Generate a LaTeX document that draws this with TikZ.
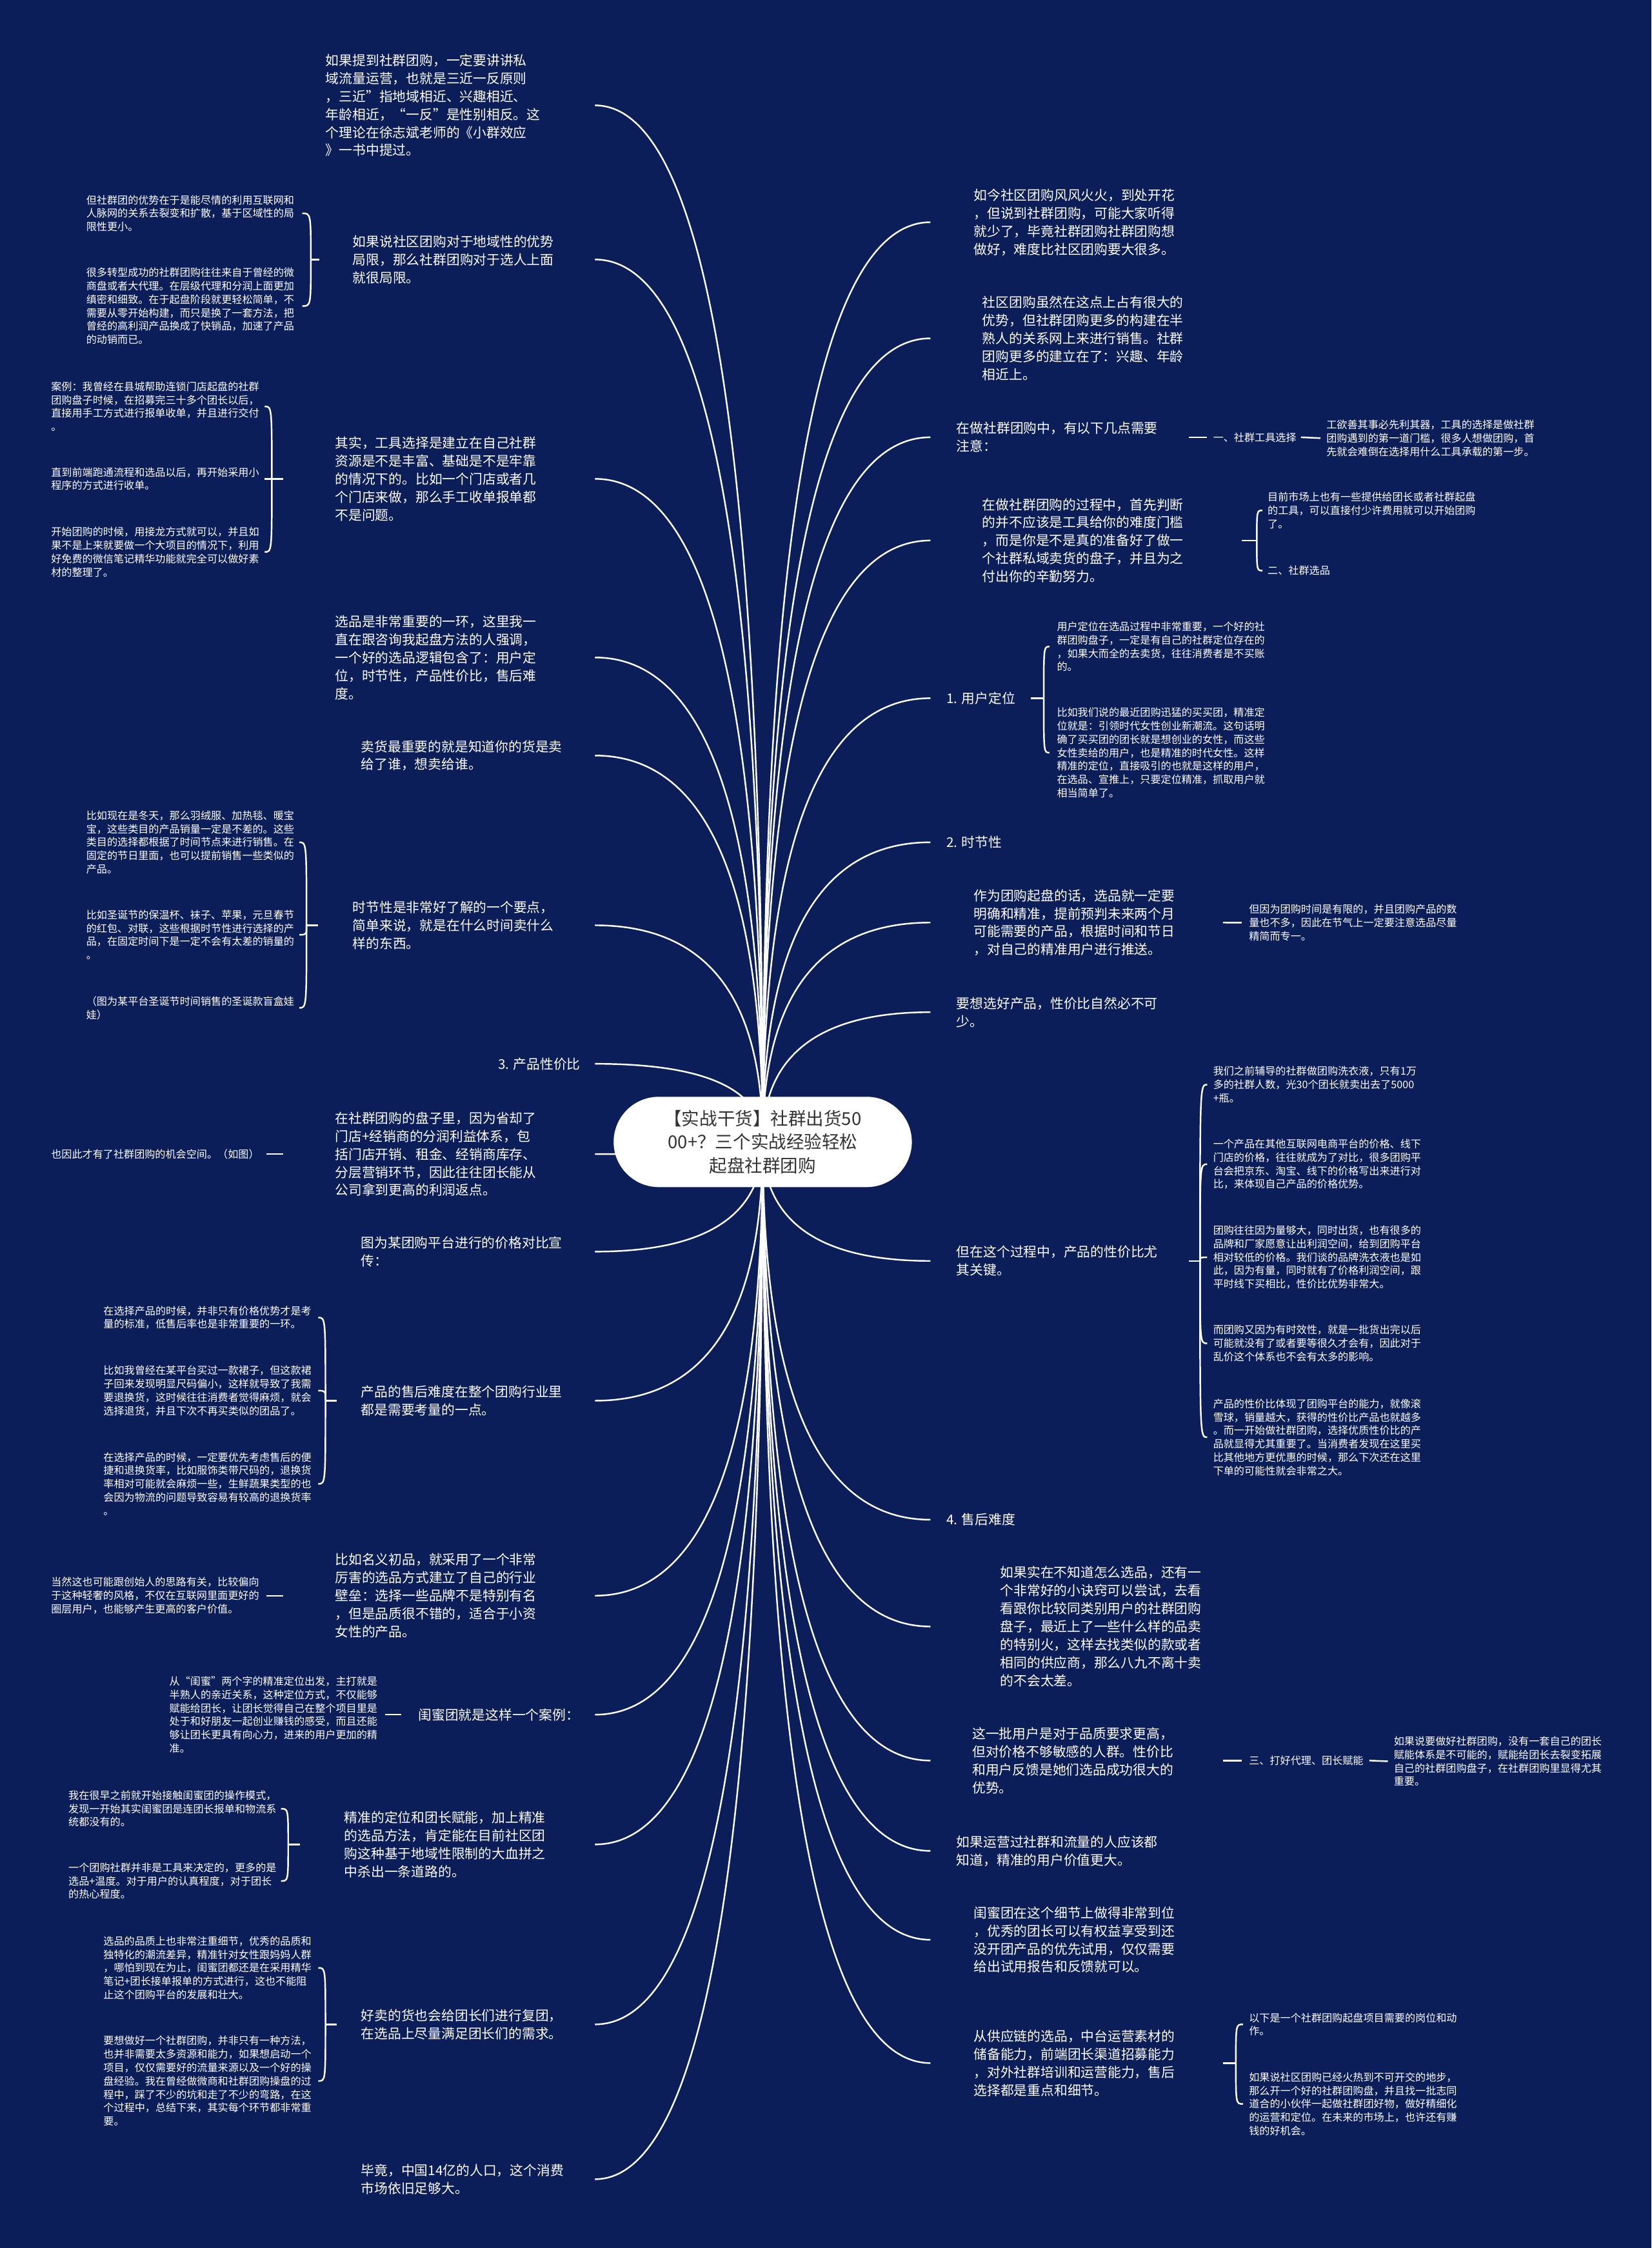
\documentclass[tikz,border=0pt]{standalone}
\usepackage{fontspec}
\setmainfont{Noto Sans CJK SC}
\newfontfamily\cjk{Noto Sans CJK SC}
\usetikzlibrary{calc}
\definecolor{bgnavy}{RGB}{12,30,90}
\definecolor{ctrtext}{RGB}{51,51,51}
\pgfdeclarelayer{bglayer}
\pgfdeclarelayer{linklayer}
\pgfsetlayers{bglayer,linklayer,main}
\newcommand\mainfs{\cjk\fontsize{9.35}{12.55}\selectfont}
\newcommand\smallfs{\cjk\fontsize{7.25}{9.35}\selectfont}
\newcommand\ctrfs{\cjk\fontsize{12.4}{16.5}\selectfont}
% main link from centre to node #1, ending at column #2
\newcommand\mlink[2]{\draw[link] (ctr.center) .. controls ($(ctr.center)!0.667!(ctr.center |- #1.west)$) and ($(#1.west -| #2)!0.667!(ctr.center |- #1.west)$) .. (#1.west -| #2);}
% bracket hook from brace point #1 to child #2 with horizontal offset #3
\newcommand\hk[3]{\draw[link] (#1) .. controls (#1 |- #2.west) .. ($(#1 |- #2.west)+(#3,0)$);}
\begin{document}
\begin{tikzpicture}[x=1pt,y=-1pt,
  txt/.style={anchor=west,inner sep=0pt,align=left,text=white,font=\mainfs},
  stxt/.style={anchor=west,inner sep=0pt,align=left,text=white,font=\smallfs},
  link/.style={draw=white,line width=1.1pt}]
\useasboundingbox (0,0) rectangle (1152,1568);
\begin{pgfonlayer}{bglayer}
\fill[bgnavy] (0,0) rectangle (1152,1568);
\end{pgfonlayer}

\node[fill=white,rounded corners=31.5pt,minimum width=208pt,minimum height=63pt,inner sep=0pt,align=center,text=ctrtext,font=\ctrfs] (ctr) at (532,796.5) {【实战干货】社群出货50\\00+？三个实战经验轻松\\起盘社群团购};

\coordinate (LX) at (415,796);
\coordinate (RX) at (649,796);

% ---------------- left side ----------------
\node[txt] (L1) at (227,73.5) {如果提到社群团购，一定要讲讲私\\域流量运营，也就是三近一反原则\\，三近”指地域相近、兴趣相近、\\年龄相近，“一反”是性别相反。这\\个理论在徐志斌老师的《小群效应\\》一书中提过。};
\node[txt] (L2) at (245.8,181) {如果说社区团购对于地域性的优势\\局限，那么社群团购对于选人上面\\就很局限。};
\node[stxt] (C2a) at (60,148.8) {但社群团的优势在于是能尽情的利用互联网和\\人脉网的关系去裂变和扩散，基于区域性的局\\限性更小。};
\node[stxt] (C2b) at (60,213.5) {很多转型成功的社群团购往往来自于曾经的微\\商盘或者大代理。在层级代理和分润上面更加\\缜密和细致。在于起盘阶段就更轻松简单，不\\需要从零开始构建，而只是换了一套方法，把\\曾经的高利润产品换成了快销品，加速了产品\\的动销而已。};
\node[txt] (L3) at (233.6,334) {其实，工具选择是建立在自己社群\\资源是不是丰富、基础是不是牢靠\\的情况下的。比如一个门店或者几\\个门店来做，那么手工收单报单都\\不是问题。};
\node[stxt] (C3a) at (35.5,283.5) {案例：我曾经在县城帮助连锁门店起盘的社群\\团购盘子时候，在招募完三十多个团长以后，\\直接用手工方式进行报单收单，并且进行交付\\。};
\node[stxt] (C3b) at (35.5,334) {直到前端跑通流程和选品以后，再开始采用小\\程序的方式进行收单。};
\node[stxt] (C3c) at (35.5,385) {开始团购的时候，用接龙方式就可以，并且如\\果不是上来就要做一个大项目的情况下，利用\\好免费的微信笔记精华功能就完全可以做好素\\材的整理了。};
\node[txt] (L4) at (233.6,458.6) {选品是非常重要的一环，这里我一\\直在跟咨询我起盘方法的人强调，\\一个好的选品逻辑包含了：用户定\\位，时节性，产品性价比，售后难\\度。};
\node[txt] (L5) at (251.7,527) {卖货最重要的就是知道你的货是卖\\给了谁，想卖给谁。};
\node[txt] (L6) at (245.8,645.4) {时节性是非常好了解的一个要点，\\简单来说，就是在什么时间卖什么\\样的东西。};
\node[stxt] (C6a) at (60,587.5) {比如现在是冬天，那么羽绒服、加热毯、暖宝\\宝，这些类目的产品销量一定是不差的。这些\\类目的选择都根据了时间节点来进行销售。在\\固定的节日里面，也可以提前销售一些类似的\\产品。};
\node[stxt] (C6b) at (60,652) {比如圣诞节的保温杯、袜子、苹果，元旦春节\\的红包、对联，这些根据时节性进行选择的产\\品，在固定时间下是一定不会有太差的销量的\\。};
\node[stxt] (C6c) at (60,703) {（图为某平台圣诞节时间销售的圣诞款盲盒娃\\娃）};
\node[txt] (L7) at (347.3,742) {3. 产品性价比};
\node[txt] (L8) at (233.6,805) {在社群团购的盘子里，因为省却了\\门店+经销商的分润利益体系，包\\括门店开销、租金、经销商库存、\\分层营销环节，因此往往团长能从\\公司拿到更高的利润返点。};
\node[stxt] (C8) at (35.5,805) {也因此才有了社群团购的机会空间。（如图）};
\node[txt] (L9) at (251.7,873) {图为某团购平台进行的价格对比宣\\传：};
\node[txt] (L10) at (251.7,977) {产品的售后难度在整个团购行业里\\都是需要考量的一点。};
\node[stxt] (C10a) at (72,919) {在选择产品的时候，并非只有价格优势才是考\\量的标准，低售后率也是非常重要的一环。};
\node[stxt] (C10b) at (72,970) {比如我曾经在某平台买过一款裙子，但这款裙\\子回来发现明显尺码偏小，这样就导致了我需\\要退换货，这时候往往消费者觉得麻烦，就会\\选择退货，并且下次不再买类似的团品了。};
\node[stxt] (C10c) at (72,1035) {在选择产品的时候，一定要优先考虑售后的便\\捷和退换货率，比如服饰类带尺码的，退换货\\率相对可能就会麻烦一些，生鲜蔬果类型的也\\会因为物流的问题导致容易有较高的退换货率\\。};
\node[txt] (L11) at (233.6,1113) {比如名义初品，就采用了一个非常\\厉害的选品方式建立了自己的行业\\壁垒：选择一些品牌不是特别有名\\，但是品质很不错的，适合于小资\\女性的产品。};
\node[stxt] (C11) at (35.5,1113) {当然这也可能跟创始人的思路有关，比较偏向\\于这种轻奢的风格，不仅在互联网里面更好的\\圈层用户，也能够产生更高的客户价值。};
\node[txt] (L12) at (291.6,1196) {闺蜜团就是这样一个案例：};
\node[stxt] (C12) at (118,1196) {从“闺蜜”两个字的精准定位出发，主打就是\\半熟人的亲近关系，这种定位方式，不仅能够\\赋能给团长，让团长觉得自己在整个项目里是\\处于和好朋友一起创业赚钱的感受，而且还能\\够让团长更具有向心力，进来的用户更加的精\\准。};
\node[txt] (L13) at (240,1286.5) {精准的定位和团长赋能，加上精准\\的选品方法，肯定能在目前社区团\\购这种基于地域性限制的大血拼之\\中杀出一条道路的。};
\node[stxt] (C13a) at (47.6,1261.6) {我在很早之前就开始接触闺蜜团的操作模式，\\发现一开始其实闺蜜团是连团长报单和物流系\\统都没有的。};
\node[stxt] (C13b) at (47.6,1312) {一个团购社群并非是工具来决定的，更多的是\\选品+温度。对于用户的认真程度，对于团长\\的热心程度。};
\node[txt] (L14) at (251.7,1412) {好卖的货也会给团长们进行复团，\\在选品上尽量满足团长们的需求。};
\node[stxt] (C14a) at (72,1372.6) {选品的品质上也非常注重细节，优秀的品质和\\独特化的潮流差异，精准针对女性跟妈妈人群\\，哪怕到现在为止，闺蜜团都还是在采用精华\\笔记+团长接单报单的方式进行，这也不能阻\\止这个团购平台的发展和壮大。};
\node[stxt] (C14b) at (72,1451.5) {要想做好一个社群团购，并非只有一种方法，\\也并非需要太多资源和能力，如果想启动一个\\项目，仅仅需要好的流量来源以及一个好的操\\盘经验。我在曾经做微商和社群团购操盘的过\\程中，踩了不少的坑和走了不少的弯路，在这\\个过程中，总结下来，其实每个环节都非常重\\要。};
\node[txt] (L15) at (251.7,1520) {毕竟，中国14亿的人口，这个消费\\市场依旧足够大。};

% ---------------- right side ----------------
\node[txt] (R1) at (679,155) {如今社区团购风风火火，到处开花\\，但说到社群团购，可能大家听得\\就少了，毕竟社群团购社群团购想\\做好，难度比社区团购要大很多。};
\node[txt] (R2) at (685,236) {社区团购虽然在这点上占有很大的\\优势，但社群团购更多的构建在半\\熟人的关系网上来进行销售。社群\\团购更多的建立在了：兴趣、年龄\\相近上。};
\node[txt] (R3) at (667,305) {在做社群团购中，有以下几点需要\\注意：};
\node[stxt] (R3a) at (846,305) {一、社群工具选择};
\node[stxt] (R3aa) at (925,305.6) {工欲善其事必先利其器，工具的选择是做社群\\团购遇到的第一道门槛，很多人想做团购，首\\先就会难倒在选择用什么工具承载的第一步。};
\node[txt] (R4) at (685,377) {在做社群团购的过程中，首先判断\\的并不应该是工具给你的难度门槛\\，而是你是不是真的准备好了做一\\个社群私域卖货的盘子，并且为之\\付出你的辛勤努力。};
\node[stxt] (R4a) at (884,356) {目前市场上也有一些提供给团长或者社群起盘\\的工具，可以直接付少许费用就可以开始团购\\了。};
\node[stxt] (R4b) at (884,398) {二、社群选品};
\node[txt] (R5) at (660,487) {1. 用户定位};
\node[stxt] (R5a) at (737,451) {用户定位在选品过程中非常重要，一个好的社\\群团购盘子，一定是有自己的社群定位存在的\\，如果大而全的去卖货，往往消费者是不买账\\的。};
\node[stxt] (R5b) at (737,525) {比如我们说的最近团购迅猛的买买团，精准定\\位就是：引领时代女性创业新潮流。这句话明\\确了买买团的团长就是想创业的女性，而这些\\女性卖给的用户，也是精准的时代女性。这样\\精准的定位，直接吸引的也就是这样的用户，\\在选品、宣推上，只要定位精准，抓取用户就\\相当简单了。};
\node[txt] (R6) at (660,587.5) {2. 时节性};
\node[txt] (R7) at (679,643.5) {作为团购起盘的话，选品就一定要\\明确和精准，提前预判未来两个月\\可能需要的产品，根据时间和节日\\，对自己的精准用户进行推送。};
\node[stxt] (R7a) at (871,643.6) {但因为团购时间是有限的，并且团购产品的数\\量也不多，因此在节气上一定要注意选品尽量\\精简而专一。};
\node[txt] (R8) at (667,706) {要想选好产品，性价比自然必不可\\少。};
\node[txt] (R9) at (667,879.5) {但在这个过程中，产品的性价比尤\\其关键。};
\node[stxt] (R9a) at (846,756.5) {我们之前辅导的社群做团购洗衣液，只有1万\\多的社群人数，光30个团长就卖出去了5000\\+瓶。};
\node[stxt] (R9b) at (846,812) {一个产品在其他互联网电商平台的价格、线下\\门店的价格，往往就成为了对比，很多团购平\\台会把京东、淘宝、线下的价格写出来进行对\\比，来体现自己产品的价格优势。};
\node[stxt] (R9c) at (846,877) {团购往往因为量够大，同时出货，也有很多的\\品牌和厂家愿意让出利润空间，给到团购平台\\相对较低的价格。我们谈的品牌洗衣液也是如\\此，因为有量，同时就有了价格利润空间，跟\\平时线下买相比，性价比优势非常大。};
\node[stxt] (R9d) at (846,937) {而团购又因为有时效性，就是一批货出完以后\\可能就没有了或者要等很久才会有，因此对于\\乱价这个体系也不会有太多的影响。};
\node[stxt] (R9e) at (846,1002.5) {产品的性价比体现了团购平台的能力，就像滚\\雪球，销量越大，获得的性价比产品也就越多\\。而一开始做社群团购，选择优质性价比的产\\品就显得尤其重要了。当消费者发现在这里买\\比其他地方更优惠的时候，那么下次还在这里\\下单的可能性就会非常之大。};
\node[txt] (R10) at (660,1060) {4. 售后难度};
\node[txt] (R11) at (697.5,1134.5) {如果实在不知道怎么选品，还有一\\个非常好的小诀窍可以尝试，去看\\看跟你比较同类别用户的社群团购\\盘子，最近上了一些什么样的品卖\\的特别火，这样去找类似的款或者\\相同的供应商，那么八九不离十卖\\的不会太差。};
\node[txt] (R12) at (678,1228) {这一批用户是对于品质要求更高，\\但对价格不够敏感的人群。性价比\\和用户反馈是她们选品成功很大的\\优势。};
\node[stxt] (R12a) at (871,1228) {三、打好代理、团长赋能};
\node[stxt] (R12aa) at (972,1228.5) {如果说要做好社群团购，没有一套自己的团长\\赋能体系是不可能的，赋能给团长去裂变拓展\\自己的社群团购盘子，在社群团购里显得尤其\\重要。};
\node[txt] (R13) at (667,1291) {如果运营过社群和流量的人应该都\\知道，精准的用户价值更大。};
\node[txt] (R14) at (679,1353) {闺蜜团在这个细节上做得非常到位\\，优秀的团长可以有权益享受到还\\没开团产品的优先试用，仅仅需要\\给出试用报告和反馈就可以。};
\node[txt] (R15) at (679,1439) {从供应链的选品，中台运营素材的\\储备能力，前端团长渠道招募能力\\，对外社群培训和运营能力，售后\\选择都是重点和细节。};
\node[stxt] (R15a) at (871,1412) {以下是一个社群团购起盘项目需要的岗位和动\\作。};
\node[stxt] (R15b) at (871,1467.5) {如果说社区团购已经火热到不可开交的地步，\\那么开一个好的社群团购盘，并且找一批志同\\道合的小伙伴一起做社群团好物，做好精细化\\的运营和定位。在未来的市场上，也许还有赚\\钱的好机会。};

% brace points
\coordinate (bL2) at ([xshift=-29pt]L2.west);
\coordinate (bL3) at ([xshift=-44pt]L3.west);
\coordinate (bL6) at ([xshift=-32pt]L6.west);
\coordinate (bL10) at ([xshift=-24.7pt]L10.west);
\coordinate (bL13) at ([xshift=-39pt]L13.west);
\coordinate (bL14) at ([xshift=-24.7pt]L14.west);
\coordinate (bR4) at ([xshift=191.6pt]R4.west);
\coordinate (bR5) at ([xshift=68pt]R5.west);
\coordinate (bR9) at ([xshift=170pt]R9.west);
\coordinate (bR15) at ([xshift=183pt]R15.west);

\begin{pgfonlayer}{linklayer}
\foreach \n in {L1,L2,L3,L4,L5,L6,L7,L8,L9,L10,L11,L12,L13,L14,L15} {\mlink{\n}{LX}}
\foreach \n in {R1,R2,R3,R4,R5,R6,R7,R8,R9,R10,R11,R12,R13,R14,R15} {\mlink{\n}{RX}}
% left brackets
\draw[link] (bL2) -- ([xshift=-23pt]L2.west);
\hk{bL2}{C2a}{-6} \hk{bL2}{C2b}{-6}
\draw[link] (bL3) -- ([xshift=-36pt]L3.west);
\hk{bL3}{C3a}{-5} \hk{bL3}{C3b}{-5} \hk{bL3}{C3c}{-5}
\draw[link] (bL6) -- ([xshift=-24pt]L6.west);
\hk{bL6}{C6a}{-5} \hk{bL6}{C6b}{-5} \hk{bL6}{C6c}{-5}
\draw[link] ([xshift=5pt]C8.east) -- ([xshift=-36pt]L8.west);
\draw[link] (bL10) -- ([xshift=-16.7pt]L10.west);
\hk{bL10}{C10a}{-5} \hk{bL10}{C10b}{-5} \hk{bL10}{C10c}{-5}
\draw[link] ([xshift=5pt]C11.east) -- ([xshift=-36pt]L11.west);
\draw[link] ([xshift=5pt]C12.east) -- ([xshift=-11.6pt]L12.west);
\draw[link] (bL13) -- ([xshift=-31pt]L13.west);
\hk{bL13}{C13a}{-5} \hk{bL13}{C13b}{-5}
\draw[link] (bL14) -- ([xshift=-16.7pt]L14.west);
\hk{bL14}{C14a}{-5} \hk{bL14}{C14b}{-5}
% right brackets and lines
\draw[link] ([xshift=162pt]R3.west) -- ([xshift=-4pt]R3a.west);
\draw[link] ([xshift=3pt]R3a.east) -- ([xshift=-4pt]R3aa.west);
\draw[link] ([xshift=181pt]R4.west) -- (bR4);
\hk{bR4}{R4a}{4} \hk{bR4}{R4b}{4}
\draw[link] ([xshift=59pt]R5.west) -- (bR5);
\hk{bR5}{R5a}{4} \hk{bR5}{R5b}{4}
\draw[link] ([xshift=174pt]R7.west) -- ([xshift=-5pt]R7a.west);
\draw[link] ([xshift=162pt]R9.west) -- (bR9);
\hk{bR9}{R9a}{5} \hk{bR9}{R9b}{5} \hk{bR9}{R9c}{5} \hk{bR9}{R9d}{5} \hk{bR9}{R9e}{5}
\draw[link] ([xshift=175pt]R12.west) -- ([xshift=-5pt]R12a.west);
\draw[link] ([xshift=4pt]R12a.east) -- ([xshift=-4pt]R12aa.west);
\draw[link] ([xshift=174pt]R15.west) -- (bR15);
\hk{bR15}{R15a}{5} \hk{bR15}{R15b}{5}
\end{pgfonlayer}
\end{tikzpicture}
\end{document}
